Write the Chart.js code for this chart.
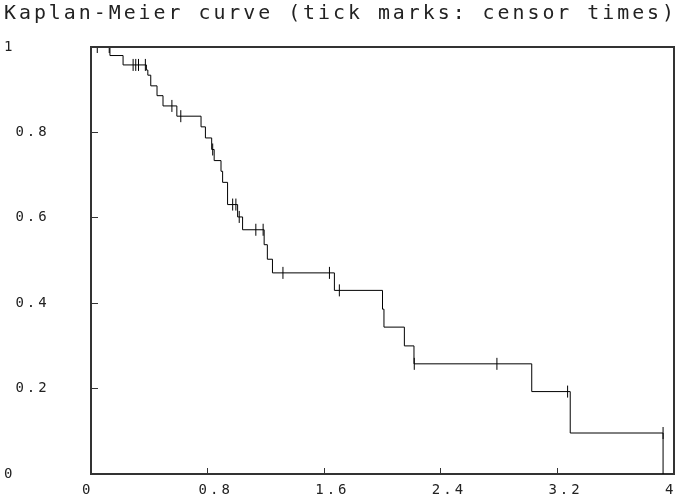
<!DOCTYPE html>
<html>
<head>
<meta charset="utf-8">
<script src="https://cdn.jsdelivr.net/npm/chart.js@4"></script>
<style>
  body { margin: 0; background: #fff; }
  #box { width: 681px; height: 498px; }
</style>
</head>
<body>
<div id="box"><canvas id="km"></canvas></div>
<script>
//time of each drop and survival right after it
const eventTimes = [0, 0.13, 0.22, 0.38, 0.39, 0.41, 0.453, 0.494, 0.589, 0.755,
  0.785, 0.828, 0.845, 0.892, 0.903, 0.937, 1.006, 1.04, 1.188, 1.21,
  1.245, 1.67, 2.0, 2.01, 2.15, 2.216, 3.024, 3.288, 3.925];
const survival = [1, 0.98, 0.958, 0.946, 0.934, 0.909, 0.886, 0.862, 0.838, 0.813,
  0.787, 0.76, 0.734, 0.709, 0.683, 0.631, 0.602, 0.572, 0.537, 0.503,
  0.471, 0.43, 0.386, 0.344, 0.30, 0.258, 0.193, 0.096, 0];
//censor times (tick marks) and the curve level there
const censorTimes = [0.043, 0.125, 0.289, 0.307, 0.326, 0.373, 0.555, 0.616, 0.835, 0.972,
  0.994, 1.017, 1.131, 1.181, 1.317, 1.636, 1.704, 2.218, 2.785, 3.27, 3.925];
const censorSurv = [1, 1, 0.958, 0.958, 0.958, 0.958, 0.862, 0.838, 0.76, 0.631,
  0.631, 0.602, 0.572, 0.572, 0.471, 0.471, 0.43, 0.258, 0.258, 0.193, 0.096];
//axis ticks
const xTicks = [0, 0.8, 1.6, 2.4, 3.2, 4];
const xTickLabels = ["0", "0.8", "1.6", "2.4", "3.2", "4"];
const yTicks = [0, 0.2, 0.4, 0.6, 0.8, 1];
const yTickLabels = ["0", " 0.2", " 0.4", " 0.6", " 0.8", "1"];

const ink = "#222";

//wide letter spacing like the stroke font, and the top/right frame
const looks = {
  id: "looks",
  beforeDraw(chart) {
    chart.ctx.letterSpacing = "3px";
  },
  afterDraw(chart) {
    const { ctx, chartArea: a } = chart;
    ctx.save();
    ctx.strokeStyle = "#333";
    ctx.lineWidth = 2;
    ctx.beginPath();
    ctx.moveTo(a.left, a.top);
    ctx.lineTo(a.right, a.top);
    ctx.lineTo(a.right, a.bottom);
    ctx.stroke();
    ctx.restore();
    ctx.letterSpacing = "0px";
  },
};

new Chart(document.getElementById("km"), {
  type: "scatter",
  plugins: [looks],
  data: {
    datasets: [
      {
        type: "line",
        data: eventTimes.map((t, i) => ({ x: t, y: survival[i] })),
        stepped: "before",
        borderColor: "#000",
        borderWidth: 1,
        pointRadius: 0,
        fill: false,
      },
      {
        data: censorTimes.map((t, i) => ({ x: t, y: censorSurv[i] })),
        pointStyle: "line",
        rotation: 90,
        pointRadius: 6,
        borderColor: "#000",
        borderWidth: 1,
      },
    ],
  },
  options: {
    responsive: true,
    maintainAspectRatio: false,
    animation: false,
    events: [],
    layout: { padding: { left: 4, right: 4, top: 0, bottom: 0 } },
    plugins: {
      legend: { display: false },
      tooltip: { enabled: false },
      title: {
        display: true,
        text: "Kaplan-Meier curve (tick marks: censor times)",
        color: ink,
        font: { family: "'DejaVu Sans Mono'", size: 20, weight: "normal" },
        padding: { top: 2, bottom: 21 },
      },
    },
    scales: {
      x: {
        type: "linear",
        min: 0,
        max: 4,
        afterBuildTicks: (s) => { s.ticks = xTicks.map((v) => ({ value: v })); },
        afterFit: (s) => { s.height = 24; s.paddingLeft = 0; s.paddingRight = 0; },
        border: { display: true, color: "#333", width: 2 },
        grid: { drawOnChartArea: false, drawTicks: true, tickLength: -6, color: "#333" },
        ticks: {
          autoSkip: false,
          maxRotation: 0,
          align: "start",
          labelOffset: -9,
          padding: 14,
          color: ink,
          font: { family: "'DejaVu Sans Mono'", size: 14 },
          callback: (v, i) => xTickLabels[i],
        },
      },
      y: {
        type: "linear",
        min: 0,
        max: 1,
        afterBuildTicks: (s) => { s.ticks = yTicks.map((v) => ({ value: v })); },
        afterFit: (s) => { s.width = 87; s.paddingTop = 0; s.paddingBottom = 0; },
        border: { display: true, color: "#333", width: 2 },
        grid: { drawOnChartArea: false, drawTicks: true, tickLength: -7, color: "#333" },
        ticks: {
          autoSkip: false,
          crossAlign: "far",
          color: ink,
          font: { family: "'DejaVu Sans Mono'", size: 14 },
          callback: (v, i) => yTickLabels[i],
        },
      },
    },
  },
});
</script>
</body>
</html>
